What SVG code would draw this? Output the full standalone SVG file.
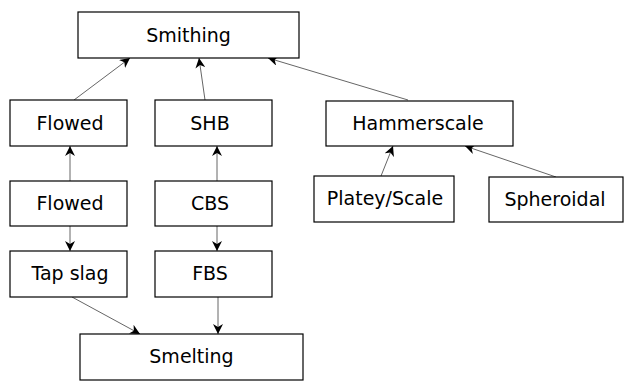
<svg xmlns="http://www.w3.org/2000/svg" width="625" height="381" viewBox="0 0 625 381">
<style>
.box{fill:#fff;stroke:#000;stroke-width:1.2}
.lbl{font-family:"DejaVu Sans",Verdana,sans-serif;font-size:19px;fill:#000;text-anchor:middle}
.c{stroke:#666;stroke-width:1;fill:none;marker-end:url(#ah)}
</style>
<defs>
<marker id="ah" viewBox="0 0 10 10" refX="10" refY="5" markerWidth="10" markerHeight="10" markerUnits="userSpaceOnUse" orient="auto">
<path d="M0,0 L10,5 L0,10 L3,5 Z" fill="#000"/>
</marker>
</defs>
<rect width="625" height="381" fill="#fff"/>
<g id="connectors">
<line class="c" x1="74" y1="100" x2="130" y2="58"/>
<line class="c" x1="205" y1="100" x2="199" y2="58"/>
<line class="c" x1="408" y1="100" x2="268" y2="58"/>
<line class="c" x1="70" y1="181" x2="70" y2="146"/>
<line class="c" x1="217" y1="181" x2="217" y2="146"/>
<line class="c" x1="70" y1="226" x2="70" y2="251"/>
<line class="c" x1="217" y1="226" x2="217" y2="251"/>
<line class="c" x1="72" y1="297" x2="140" y2="334"/>
<line class="c" x1="218" y1="297" x2="218" y2="334"/>
<line class="c" x1="381" y1="176" x2="393" y2="146"/>
<line class="c" x1="556" y1="177" x2="465" y2="146"/>
</g>
<g id="smithing"><rect class="box" x="78" y="12" width="221" height="46"/><text class="lbl" x="188.5" y="42">Smithing</text></g>
<g id="flowed1"><rect class="box" x="10" y="100" width="117" height="46"/><text class="lbl" x="70" y="130">Flowed</text></g>
<g id="shb"><rect class="box" x="155" y="100" width="117" height="46"/><text class="lbl" x="210" y="130">SHB</text></g>
<g id="hammerscale"><rect class="box" x="326" y="101" width="187" height="45"/><text class="lbl" x="418" y="130">Hammerscale</text></g>
<g id="platey"><rect class="box" x="314" y="176" width="140" height="46"/><text class="lbl" x="385" y="205">Platey/Scale</text></g>
<g id="spheroidal"><rect class="box" x="489" y="177" width="134" height="45"/><text class="lbl" x="555" y="206">Spheroidal</text></g>
<g id="flowed2"><rect class="box" x="10" y="181" width="117" height="45"/><text class="lbl" x="70" y="210">Flowed</text></g>
<g id="cbs"><rect class="box" x="155" y="181" width="117" height="45"/><text class="lbl" x="210" y="210">CBS</text></g>
<g id="tapslag"><rect class="box" x="10" y="251" width="117" height="46"/><text class="lbl" x="70" y="280">Tap slag</text></g>
<g id="fbs"><rect class="box" x="155" y="251" width="117" height="46"/><text class="lbl" x="210" y="280">FBS</text></g>
<g id="smelting"><rect class="box" x="80" y="334" width="223" height="46"/><text class="lbl" x="191.5" y="363">Smelting</text></g>
</svg>
